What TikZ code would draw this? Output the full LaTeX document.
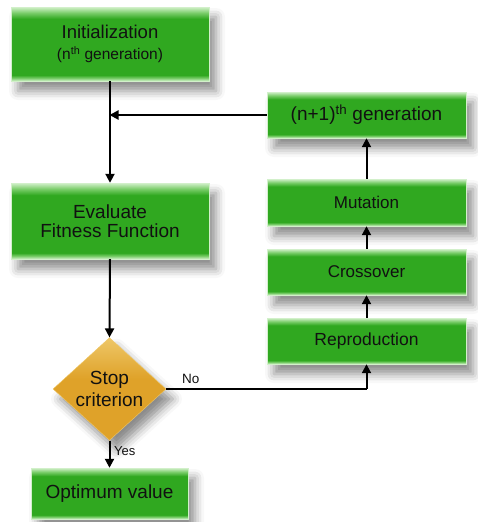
\documentclass[tikz,border=0pt]{standalone}
\usepackage{fontspec}
\setmainfont{Liberation Sans}
\usetikzlibrary{arrows.meta,shapes.geometric,shadows.blur}
\definecolor{gmain}{HTML}{30A820}
\definecolor{glight}{HTML}{D2F0CA}
\definecolor{gmid}{HTML}{78CC68}
\definecolor{omain}{HTML}{DFA229}
\definecolor{olight}{HTML}{EEC768}
\definecolor{txt}{HTML}{111111}
\pgfdeclareverticalshading{greenbar}{100bp}{color(0bp)=(glight); color(25bp)=(glight); color(27bp)=(gmid); color(29bp)=(gmain); color(67bp)=(gmain); color(71bp)=(gmid); color(75bp)=(glight); color(100bp)=(glight)}
\pgfdeclareverticalshading{goldbar}{100bp}{color(0bp)=(omain); color(25bp)=(omain); color(55bp)=(omain); color(75bp)=(olight); color(100bp)=(olight)}
\tikzset{
  gbox/.style={rectangle, shading=greenbar, draw=glight, line width=0.4pt, inner sep=0pt,
    align=center, text=txt, blur shadow={shadow xshift=7pt, shadow yshift=-10pt, shadow blur radius=9pt, shadow opacity=45}},
  dbox/.style={diamond, shading=goldbar, draw=olight, line width=0.4pt, inner sep=0pt,
    align=center, text=txt, minimum width=113pt, minimum height=96pt,
    blur shadow={shadow xshift=7pt, shadow yshift=-10pt, shadow blur radius=9pt, shadow opacity=45}},
  conn/.style={line width=2pt, draw=black},
  arr/.style={conn, -{Triangle[length=9pt,width=9pt]}},
  lbl/.style={text=txt, inner sep=0pt}
}
\newcommand{\fs}[1]{\fontsize{#1}{#1}\selectfont}
\begin{document}
\begin{tikzpicture}[x=1pt,y=-1pt]
\useasboundingbox (0,0) rectangle (477,522);
\node[gbox, minimum width=198pt, minimum height=74pt] (init) at (110,44)
  {{\fs{18.5}Initialization}\\[7pt]{\fs{15.5}(n\textsuperscript{th} generation)}};
\node[gbox, minimum width=198pt, minimum height=76pt] (eval) at (110,221)
  {\fs{19}Evaluate\\[4pt]\fs{19}Fitness Function};
\node[dbox] (stop) at (109.5,389) {\fs{19}Stop\\[3pt]\fs{19}criterion};
\node[gbox, minimum width=157pt, minimum height=51pt] (opt) at (109.5,493.5) {\fs{19}Optimum value};
\node[gbox, minimum width=199pt, minimum height=46pt] (gen) at (366.5,115)
  {\fs{19}(n+1)\textsuperscript{th} generation};
\node[gbox, minimum width=199pt, minimum height=47pt] (mut) at (366.5,202.5) {\fs{17}Mutation};
\node[gbox, minimum width=199pt, minimum height=46pt] (cross) at (366.5,272) {\fs{17}Crossover};
\node[gbox, minimum width=199pt, minimum height=46pt] (repro) at (366.5,341) {\fs{17.5}Reproduction};

\coordinate (j) at (109.5,115);
\coordinate (k) at (366.5,389);
\draw[arr] (init.south) -- (eval.north);
\draw[arr] (gen.west) -- (j);
\draw[arr] (eval.south) -- (stop.north);
\draw[arr] (stop.south) -- (opt.north);
\draw[conn] (stop.east) -- (k);
\draw[arr] (k) -- (repro.south);
\draw[arr] (repro.north) -- (cross.south);
\draw[arr] (cross.north) -- (mut.south);
\draw[arr] (mut.north) -- (gen.south);
\node[lbl, anchor=west] (no) at (182,379) {\fs{13.5}No};
\node[lbl, anchor=west] (yes) at (114,451) {\fs{13}Yes};
\end{tikzpicture}
\end{document}
